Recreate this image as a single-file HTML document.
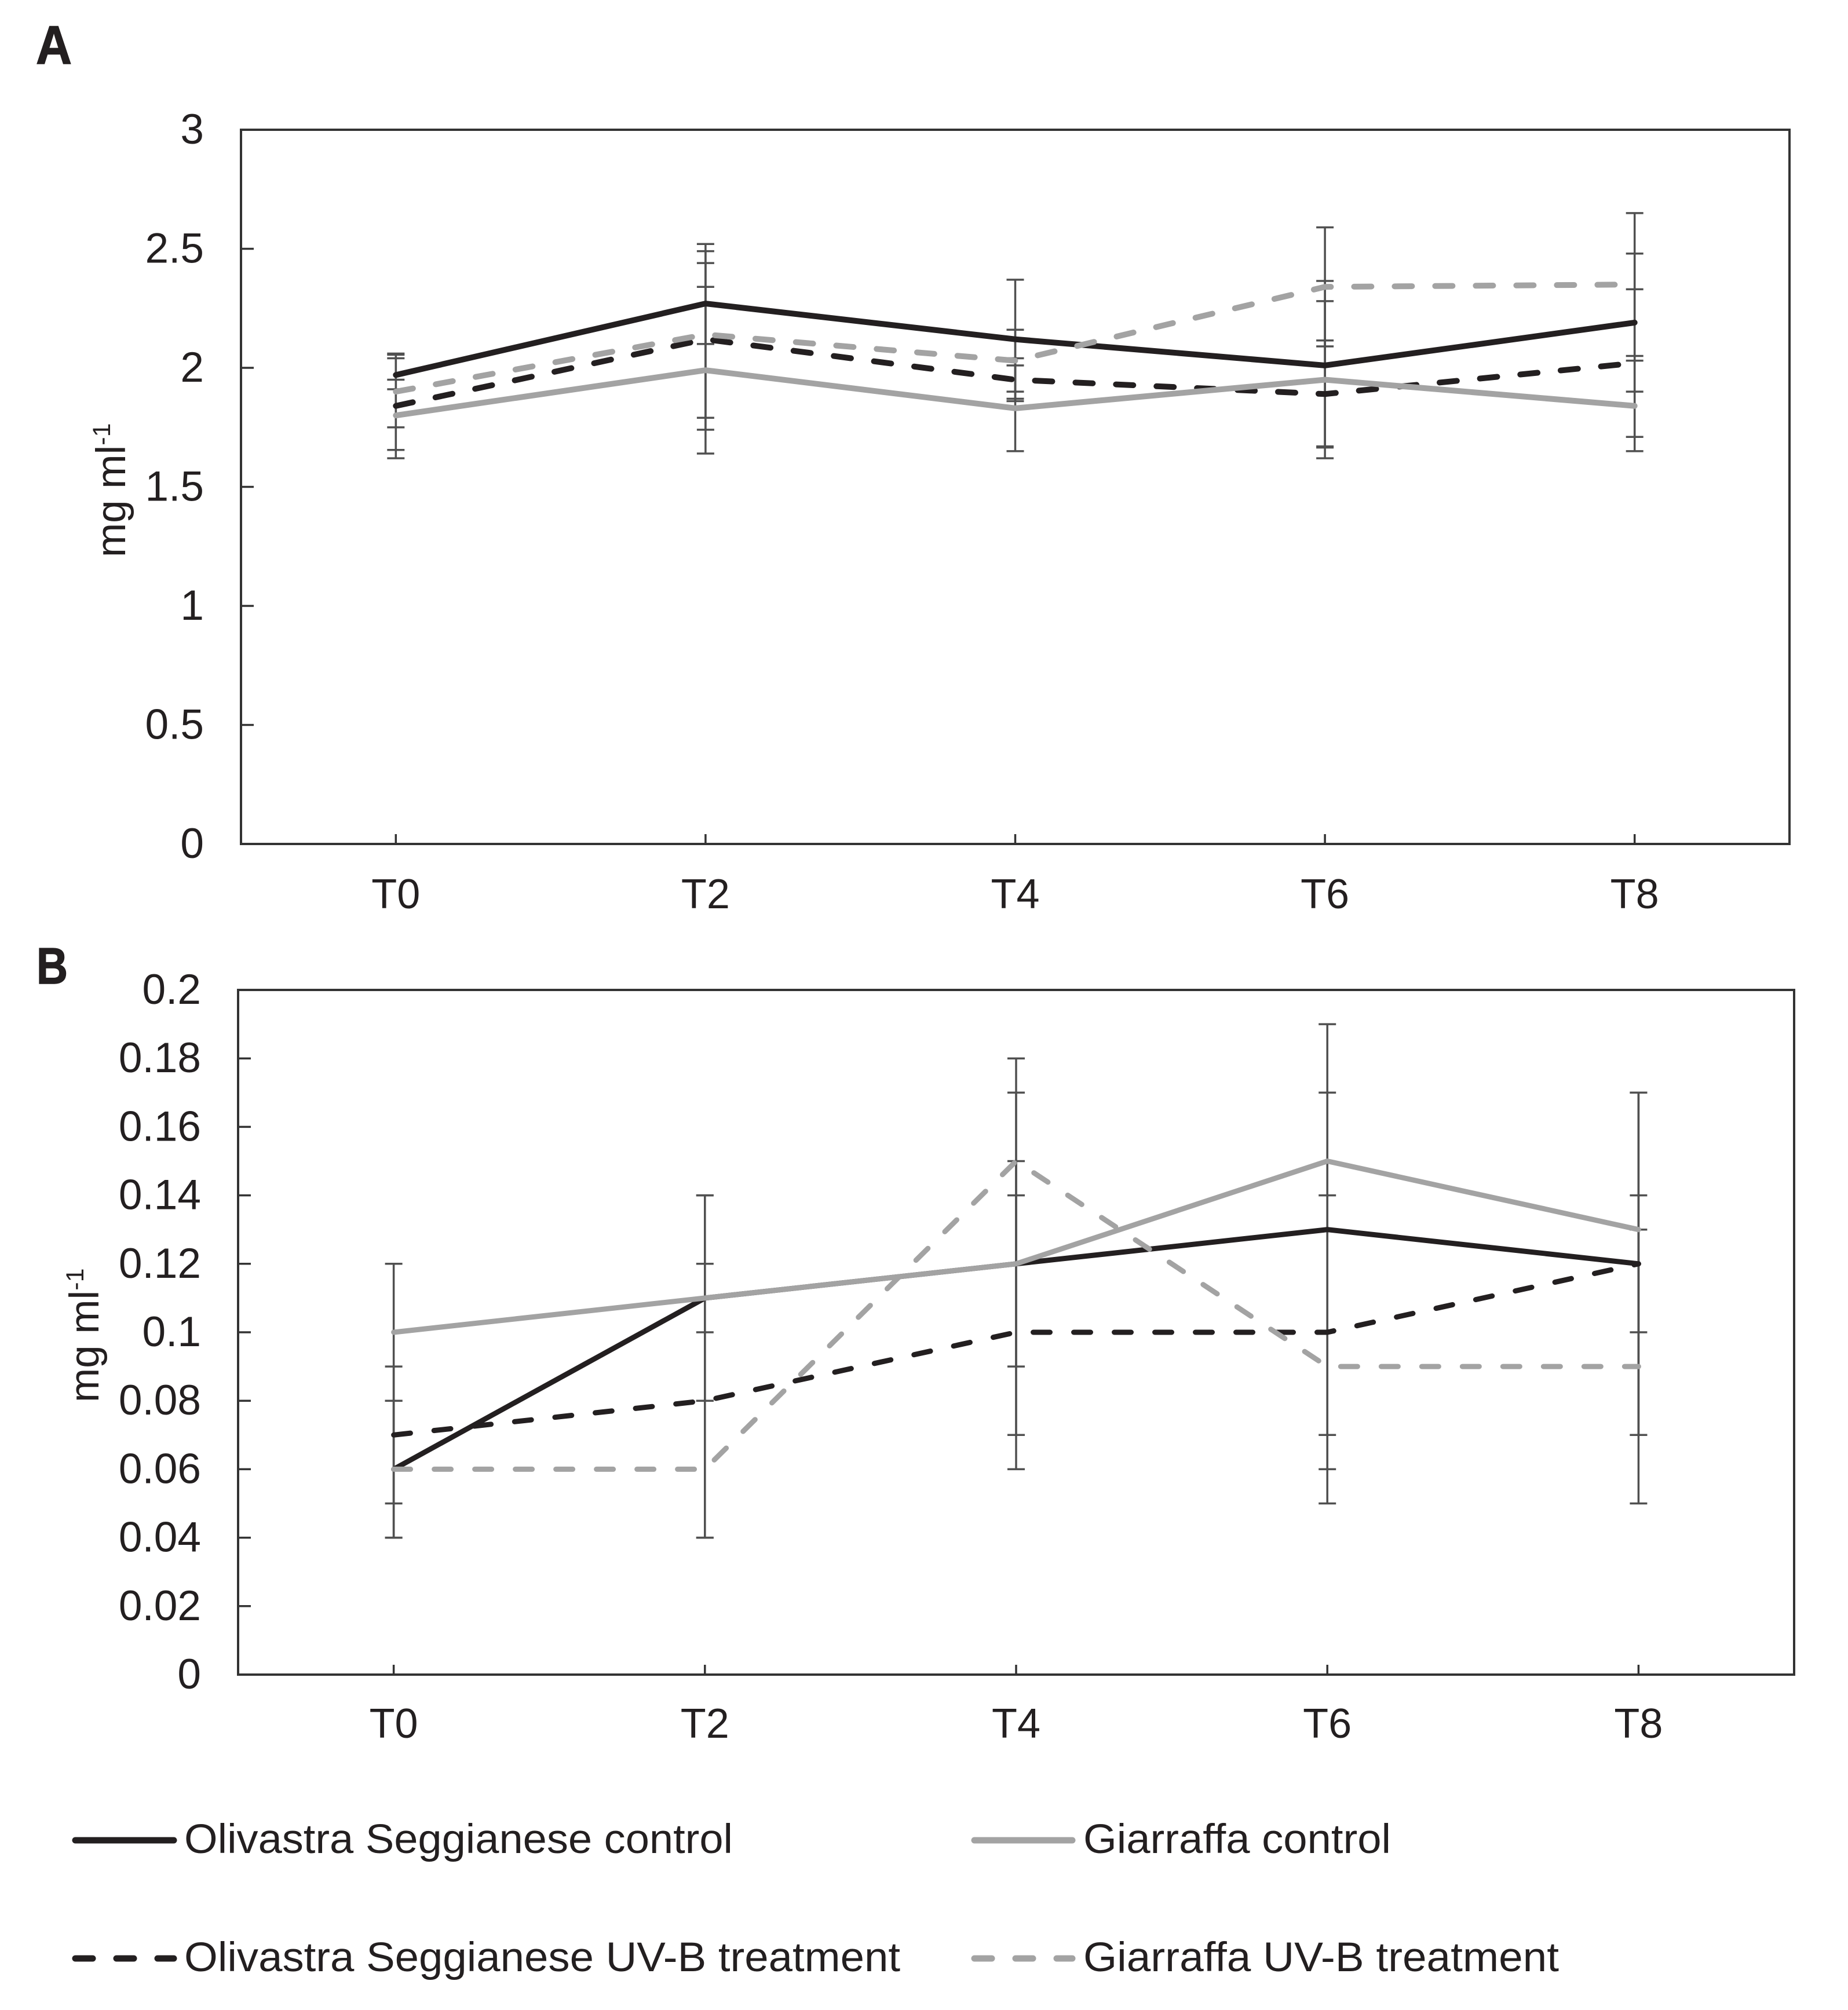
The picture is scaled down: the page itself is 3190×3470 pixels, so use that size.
<!DOCTYPE html>
<html lang="en">
<head>
<meta charset="utf-8">
<title>Panels A and B: mg ml-1 over time</title>
<style>
html,body{margin:0;padding:0;background:#fff}
svg{display:block}
text{font-family:"Liberation Sans",Arial,sans-serif;fill:#231f20}
</style>
</head>
<body>
<svg id="figure" xmlns="http://www.w3.org/2000/svg" width="3190" height="3470" viewBox="0 0 3190 3470">
  <rect x="0" y="0" width="3190" height="3470" fill="#ffffff"/>
  <text x="62" y="110" font-size="94" font-weight="bold" textLength="62" lengthAdjust="spacingAndGlyphs" stroke="#231f20" stroke-width="1.5">A</text>
  <text x="63" y="1698" font-size="88" font-weight="bold" textLength="54" lengthAdjust="spacingAndGlyphs" stroke="#231f20" stroke-width="1.5">B</text>
  <g id="panel-a"></g>
  <g id="panel-b"></g>
  <g>
    <g>
      <line x1="130" y1="3177" x2="300" y2="3177" stroke="#231f20" stroke-width="11" stroke-linecap="round"/>
      <text x="318" y="3199" font-size="71" textLength="947" lengthAdjust="spacingAndGlyphs">Olivastra Seggianese control</text>
    </g>
    <g>
      <line x1="1682" y1="3177" x2="1851" y2="3177" stroke="#a3a3a3" stroke-width="11" stroke-linecap="round"/>
      <text x="1870" y="3199" font-size="71" textLength="531" lengthAdjust="spacingAndGlyphs">Giarraffa control</text>
    </g>
    <g>
      <line x1="130" y1="3381" x2="300" y2="3381" stroke="#231f20" stroke-width="11" stroke-linecap="round" stroke-dasharray="30 41"/>
      <text x="318" y="3403" font-size="71" textLength="1236" lengthAdjust="spacingAndGlyphs">Olivastra Seggianese UV-B treatment</text>
    </g>
    <g>
      <line x1="1682" y1="3381" x2="1851" y2="3381" stroke="#a3a3a3" stroke-width="11" stroke-linecap="round" stroke-dasharray="30 41"/>
      <text x="1870" y="3403" font-size="71" textLength="821" lengthAdjust="spacingAndGlyphs">Giarraffa UV-B treatment</text>
    </g>
  </g>
</svg>
<script>
const categories = ["T0", "T2", "T4", "T6", "T8"];

const aTickValues = [0, 0.5, 1, 1.5, 2, 2.5, 3];
const aTickLabels = ["0", "0.5", "1", "1.5", "2", "2.5", "3"];
const aOlivastraControl = [1.97, 2.27, 2.12, 2.01, 2.19];
const aGiarraffaControl = [1.80, 1.99, 1.83, 1.95, 1.84];
const aOlivastraUvb = [1.84, 2.12, 1.95, 1.89, 2.02];
const aGiarraffaUvb = [1.90, 2.14, 2.03, 2.34, 2.35];
const aOlivastraControlHigh = [2.06, 2.44, 2.37, 2.365, 2.48];
const aOlivastraControlLow = [1.91, 2.10, 1.87, 1.665, 1.90];
const aGiarraffaControlHigh = [1.95, 2.34, 2.01, 2.28, 2.03];
const aGiarraffaControlLow = [1.655, 1.64, 1.65, 1.62, 1.65];
const aOlivastraUvbHigh = [2.04, 2.52, 2.04, 2.115, 2.33];
const aOlivastraUvbLow = [1.62, 1.74, 1.86, 1.67, 1.71];
const aGiarraffaUvbHigh = [2.055, 2.49, 2.16, 2.59, 2.65];
const aGiarraffaUvbLow = [1.75, 1.79, 1.90, 2.09, 2.05];

const bTickValues = [0, 0.02, 0.04, 0.06, 0.08, 0.1, 0.12, 0.14, 0.16, 0.18, 0.2];
const bTickLabels = ["0", "0.02", "0.04", "0.06", "0.08", "0.1", "0.12", "0.14", "0.16", "0.18", "0.2"];
const bOlivastraControl = [0.06, 0.11, 0.12, 0.13, 0.12];
const bGiarraffaControl = [0.10, 0.11, 0.12, 0.15, 0.13];
const bOlivastraUvb = [0.07, 0.08, 0.10, 0.10, 0.12];
const bGiarraffaUvb = [0.06, 0.06, 0.15, 0.09, 0.09];
const bOlivastraControlHigh = [0.08, 0.14, 0.17, 0.19, 0.17];
const bOlivastraControlLow = [0.04, 0.08, 0.07, 0.07, 0.07];
const bGiarraffaControlHigh = [0.12, 0.14, 0.15, 0.17, 0.14];
const bGiarraffaControlLow = [0.08, 0.08, 0.09, 0.13, 0.10];
const bOlivastraUvbHigh = [0.09, 0.12, 0.14, 0.14, 0.17];
const bOlivastraUvbLow = [0.05, 0.04, 0.06, 0.06, 0.07];
const bGiarraffaUvbHigh = [0.08, 0.10, 0.18, 0.13, 0.13];
const bGiarraffaUvbLow = [0.04, 0.04, 0.12, 0.05, 0.05];

const SVG_NS = "http://www.w3.org/2000/svg";

function make(parent, tag, attrs) {
  const el = document.createElementNS(SVG_NS, tag);
  for (const k in attrs) el.setAttribute(k, attrs[k]);
  parent.appendChild(el);
  return el;
}

function drawPanel(panel) {
  const root = document.getElementById(panel.id);
  const plotWidth = panel.right - panel.left;
  const plotHeight = panel.bottom - panel.top;
  const yMax = panel.tickValues[panel.tickValues.length - 1];
  const xScale = function (i) { return panel.left + (i + 0.5) * plotWidth / categories.length; };
  const yScale = function (v) { return panel.bottom - (v / yMax) * plotHeight; };

  panel.tickValues.forEach(function (v, i) {
    const y = yScale(v);
    if (i > 0 && i < panel.tickValues.length - 1) {
      const tick = make(root, "line", { x1: panel.left, y1: y, x2: panel.left + 22, y2: y, stroke: "#333", "stroke-width": 3.5 });
      
      
    }
    const label = make(root, "text", { x: panel.labelX, y: y + 24, "font-size": 73, "text-anchor": "end" });
    
    
    label.textContent = panel.tickLabels[i];
  });

  categories.forEach(function (c, i) {
    const x = xScale(i);
    const tick = make(root, "line", { x1: x, y1: panel.bottom, x2: x, y2: panel.bottom - 17, stroke: "#333", "stroke-width": 3.5 });
    
    
    const label = make(root, "text", { x: x, y: panel.xLabelY, "font-size": 72, "text-anchor": "middle" });
    
    
    label.textContent = c;
  });

  panel.series.forEach(function (s) {
    s.high.forEach(function (h, i) {
      const x = xScale(i);
      const yh = yScale(h);
      const yl = yScale(s.low[i]);
      const stem = make(root, "line", { x1: x, y1: yh, x2: x, y2: yl, stroke: "#505050", "stroke-width": 3.5 });
      
      
      [yh, yl].forEach(function (yc) {
        const cap = make(root, "line", { x1: x - 15, y1: yc, x2: x + 15, y2: yc, stroke: "#505050", "stroke-width": 3.5 });
        
        
      });
    });
  });

  panel.series.forEach(function (s) {
    const points = s.values.map(function (v, i) { return xScale(i) + "," + yScale(v); }).join(" ");
    const line = make(root, "polyline", { points: points, fill: "none", stroke: s.color, "stroke-width": panel.lineWidth, "stroke-linecap": "round", "stroke-linejoin": "miter" });
    if (s.dashed) line.setAttribute("stroke-dasharray", panel.dash);
    
    
  });

  const axisBox = make(root, "rect", { x: panel.left, y: panel.top, width: plotWidth, height: plotHeight, fill: "none", stroke: "#333", "stroke-width": 4 });
  
  

  const title = make(root, "text", { transform: "translate(" + panel.titleX + "," + panel.titleY + ") rotate(-90)", "font-size": 71 });
  
  
  title.textContent = "mg ml";
  const sup = make(title, "tspan", { "font-size": 43, dy: -26 });
  
  
  sup.textContent = "-1";
}

drawPanel({
  id: "panel-a", left: 416, right: 3089, top: 224, bottom: 1457, labelX: 352, xLabelY: 1568,
  titleX: 216, titleY: 962, lineWidth: 10, dash: "30 40",
  tickValues: aTickValues, tickLabels: aTickLabels,
  series: [
    { name: "series-olivastra-uvb", color: "#231f20", dashed: true, values: aOlivastraUvb, high: aOlivastraUvbHigh, low: aOlivastraUvbLow },
    { name: "series-giarraffa-control", color: "#a3a3a3", dashed: false, values: aGiarraffaControl, high: aGiarraffaControlHigh, low: aGiarraffaControlLow },
    { name: "series-olivastra-control", color: "#231f20", dashed: false, values: aOlivastraControl, high: aOlivastraControlHigh, low: aOlivastraControlLow },
    { name: "series-giarraffa-uvb", color: "#a3a3a3", dashed: true, values: aGiarraffaUvb, high: aGiarraffaUvbHigh, low: aGiarraffaUvbLow }
  ]
});

drawPanel({
  id: "panel-b", left: 411, right: 3097, top: 1709, bottom: 2891, labelX: 347, xLabelY: 3000,
  titleX: 170, titleY: 2421, lineWidth: 9, dash: "29 41",
  tickValues: bTickValues, tickLabels: bTickLabels,
  series: [
    { name: "series-olivastra-control", color: "#231f20", dashed: false, values: bOlivastraControl, high: bOlivastraControlHigh, low: bOlivastraControlLow },
    { name: "series-olivastra-uvb", color: "#231f20", dashed: true, values: bOlivastraUvb, high: bOlivastraUvbHigh, low: bOlivastraUvbLow },
    { name: "series-giarraffa-uvb", color: "#a3a3a3", dashed: true, values: bGiarraffaUvb, high: bGiarraffaUvbHigh, low: bGiarraffaUvbLow },
    { name: "series-giarraffa-control", color: "#a3a3a3", dashed: false, values: bGiarraffaControl, high: bGiarraffaControlHigh, low: bGiarraffaControlLow }
  ]
});
</script>
</body>
</html>
